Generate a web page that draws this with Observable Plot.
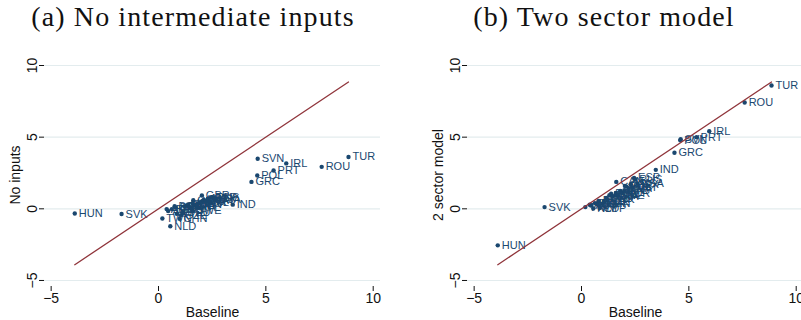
<!DOCTYPE html>
<html>
<head>
<meta charset="utf-8">
<script src="https://cdn.jsdelivr.net/npm/d3@7"></script>
<script src="https://cdn.jsdelivr.net/npm/@observablehq/plot@0.6"></script>
<style>
  html, body { margin: 0; padding: 0; background: #fff; }
  body { width: 801px; height: 320px; overflow: hidden; position: relative; }
  .title { position: absolute; top: 1px; font-family: "Liberation Serif", serif; font-size: 28px; letter-spacing: 1.1px; color: #111; white-space: nowrap; transform: translateX(-50%); }
  .panel { position: absolute; top: 50px; width: 400px; height: 270px; }
  .panel svg { max-width: none !important; }
</style>
</head>
<body>
<div class="title" style="left:193px">(a) No intermediate inputs</div>
<div class="title" style="left:604px">(b) Two sector model</div>
<div id="left" class="panel" style="left:0px"></div>
<div id="right" class="panel" style="left:423px"></div>
<script>
const countries = ["HUN","SVK","TUR","ROU","IRL","PRT","SVN","POL","GRC","IND","NLD","TWN","CHN","SWE","GBR","CAN","ESP",
  "AUS","AUT","BEL","BGR","BRA","CYP","CZE","DEU","DNK","EST","FIN","FRA","IDN","ITA","JPN","KOR","LTU","LUX","LVA","MEX","MLT","RUS","USA"];
const baseline = [-3.9,-1.72,8.85,7.6,5.95,5.36,4.62,4.6,4.33,3.46,0.55,0.18,0.98,1.58,2.02,1.62,2.45,
  0.38,0.45,0.62,0.75,0.8,0.85,1.05,1.15,1.2,1.3,1.38,1.45,1.6,1.7,1.8,1.9,2.0,2.1,2.2,2.3,2.38,2.5,2.6];
const noInputs = [-0.33,-0.36,3.62,2.93,3.17,2.67,3.49,2.33,1.88,0.29,-1.22,-0.68,-0.7,-0.14,0.93,0.6,0.8,
  -0.02,-0.15,-0.02,0.18,0.1,-0.35,-0.45,-0.26,0.16,0.22,0.3,0.12,0.38,0.25,0.32,0.45,0.5,0.62,0.55,0.7,0.45,0.78,0.62];
const twoSector = [-2.55,0.12,8.6,7.42,5.42,5.0,4.85,4.78,3.91,2.72,0.02,0.12,0.35,0.95,1.6,1.88,2.16,
  0.28,0.22,0.4,0.38,0.55,0.05,0.5,0.75,0.62,0.95,1.05,0.85,1.1,0.95,1.25,1.1,1.3,1.55,1.4,1.7,1.5,2.05,1.75];
const xTicks = [-5, 0, 5, 10];
const yTicks = [-5, 0, 5, 10];
const xLabel = "Baseline";
const yLabels = ["No inputs", "2 sector model"];

const navy = "#1a476f";
const maroon = "#90353b";
const fontFam = "'Liberation Sans', Arial, sans-serif";

function panel(yvals, ylabel) {
  const data = countries.map((c, i) => ({c, x: baseline[i], y: yvals[i]}));
  const [lo, hi] = d3.extent(baseline);
  const diag = [{x: lo, y: lo}, {x: hi, y: hi}];
  return Plot.plot({
    width: 400, height: 270,
    marginLeft: 44, marginRight: 20, marginTop: 13, marginBottom: 34,
    style: {fontFamily: fontFam, fontSize: "14px", color: "#111", background: "transparent", maxWidth: "none"},
    x: {domain: [-5.31, 10.34]},
    y: {domain: [-5.42, 10.14]},
    marks: [
      Plot.gridY(yTicks, {stroke: "#e3ecee", strokeOpacity: 1, strokeWidth: 1.2}),
      Plot.axisX(xTicks, {tickSize: 5, tickPadding: 2, line: true, label: xLabel, labelAnchor: "center", labelArrow: "none", labelOffset: 30, fontSize: 14}),
      Plot.axisY(yTicks, {tickSize: 5, tickPadding: 3, tickRotate: -90, line: true, label: ylabel, labelAnchor: "center", labelArrow: "none", labelOffset: 34, fontSize: 14}),
      Plot.dot(data, {x: "x", y: "y", r: 2.2, fill: navy, stroke: "none"}),
      Plot.text(data, {x: "x", y: "y", text: "c", dx: 4, textAnchor: "start", fill: navy, fontSize: 11}),
      Plot.line(diag, {x: "x", y: "y", stroke: maroon, strokeWidth: 1.3})
    ]
  });
}
document.getElementById("left").append(panel(noInputs, yLabels[0]));
document.getElementById("right").append(panel(twoSector, yLabels[1]));
</script>
</body>
</html>
